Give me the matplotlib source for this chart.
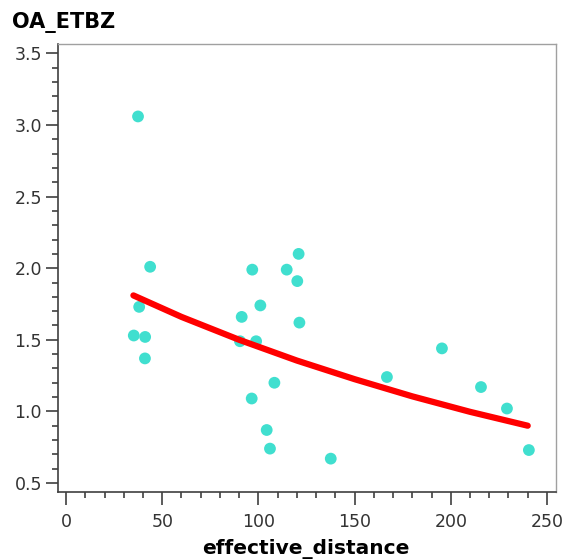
import matplotlib
matplotlib.use("Agg")
import matplotlib.pyplot as plt
from matplotlib.ticker import MultipleLocator

# scatter points
dist = [37.4, 35.2, 41.1, 38.0, 43.7, 41.0, 91.3, 90.4, 98.8, 96.8,
        101.0, 96.5, 104.3, 106.0, 108.3, 114.7, 120.2, 120.9, 121.3,
        137.6, 166.8, 195.4, 215.7, 229.2, 240.6]
oa_etbz = [3.06, 1.53, 1.52, 1.73, 2.01, 1.37, 1.66, 1.49, 1.49, 1.99,
           1.74, 1.09, 0.87, 0.74, 1.20, 1.99, 1.91, 2.10, 1.62,
           0.67, 1.24, 1.44, 1.17, 1.02, 0.73]

# fitted curve, read at a few x positions
fit_x = [35, 60, 90, 120, 150, 180, 210, 240]
fit_y = [1.81, 1.66, 1.50, 1.355, 1.225, 1.105, 0.997, 0.90]

plt.rcParams['font.family'] = ['DejaVu Sans']

fig = plt.figure(figsize=(5.63, 5.60), dpi=100)
ax = fig.add_axes([58 / 563, 1 - 492 / 560, 498 / 563, 448 / 560])

ax.scatter(dist, oa_etbz, s=72, color='#40DFCF', edgecolors='none', zorder=2)
ax.plot(fit_x, fit_y, color='#FF0000', lw=4.5, solid_capstyle='round', zorder=3)

ax.set_xlim(-4.2, 254.7)
ax.set_ylim(0.437, 3.566)
ax.xaxis.set_major_locator(MultipleLocator(50))
ax.xaxis.set_minor_locator(MultipleLocator(10))
ax.yaxis.set_major_locator(MultipleLocator(0.5))
ax.yaxis.set_minor_locator(MultipleLocator(0.1))
ax.yaxis.set_major_formatter(matplotlib.ticker.FormatStrFormatter('%.1f'))

ax.tick_params(which='both', direction='out', color='#404040', width=1.2,
               labelsize=12.5, labelcolor='#333333')
ax.tick_params(which='major', length=9, pad=2.5)
ax.tick_params(which='minor', length=4)
ax.tick_params(axis='x', which='major', pad=6)

for s in ['left', 'bottom']:
    ax.spines[s].set_color('#404040')
    ax.spines[s].set_linewidth(1.2)
for s in ['top', 'right']:
    ax.spines[s].set_color('#A0A0A0')
    ax.spines[s].set_linewidth(1.0)

fig.text(12 / 563, 1 - 28 / 560, 'OA_ETBZ', fontsize=15, fontweight='bold',
         va='baseline', ha='left')
fig.text(306 / 563, 1 - 554 / 560, 'effective_distance', fontsize=14.5,
         fontweight='bold', va='baseline', ha='center')

fig.savefig('out.png', dpi=100)
